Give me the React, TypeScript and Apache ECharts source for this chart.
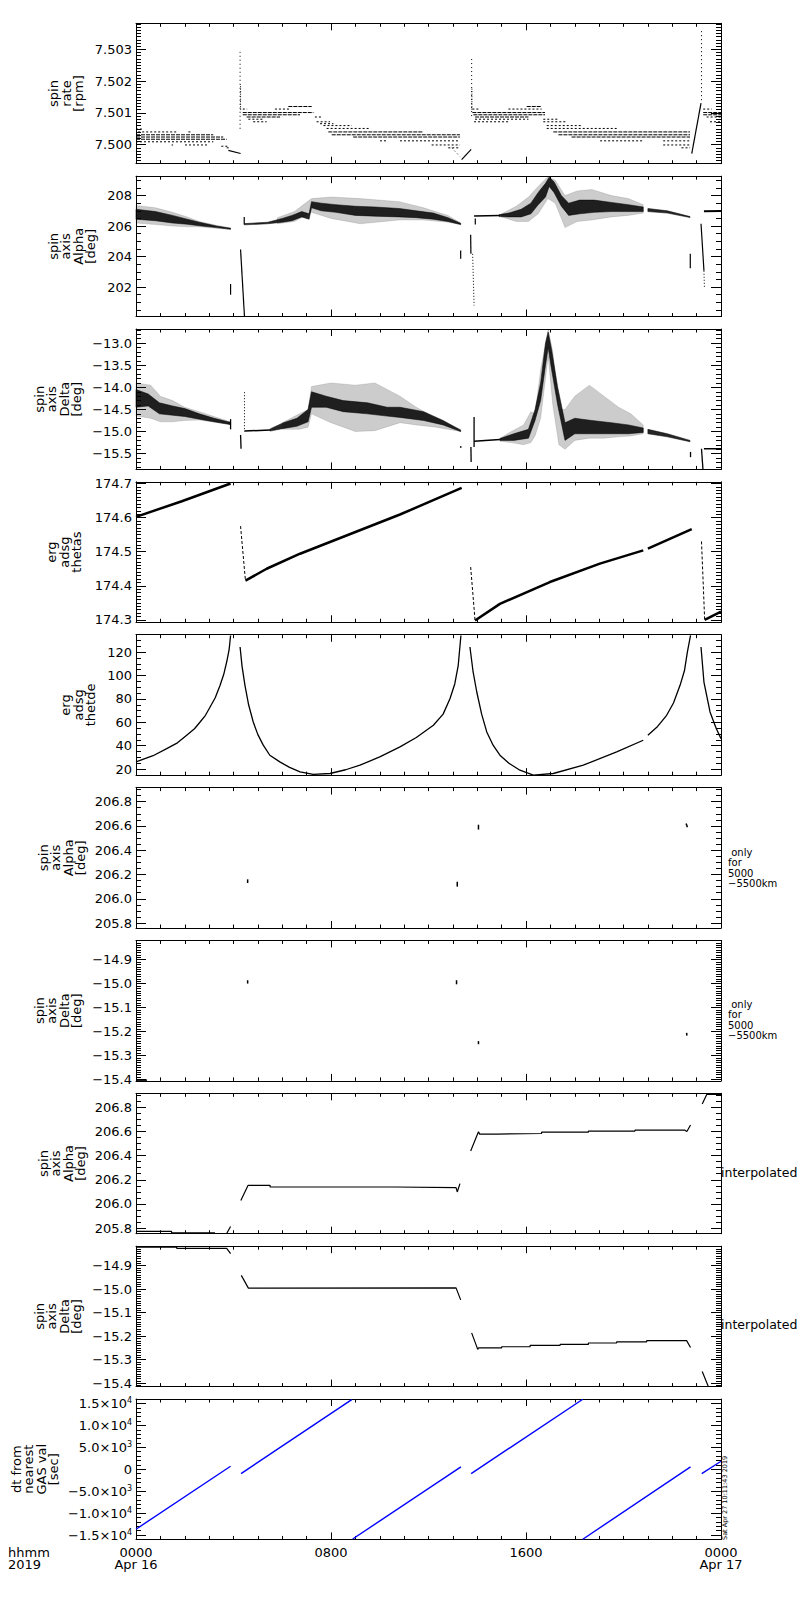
import React, { useEffect, useRef } from "react";
import * as echarts from "echarts";

type Pt = [number, number];
type Seg = [number, number, number, number];
type Level = [number, number, number];
type BandRow = [number, number, number];

const FONT = "'DejaVu Sans', sans-serif";

// ---------------- axes text ----------------
const X_TICK_TEXT: Record<number, string> = { 0: "0000\nApr 16", 8: "0800", 16: "1600", 24: "0000\nApr 17" };
const PANEL_TITLES = [
  "spin\nrate\n[rpm]",
  "spin\naxis\nAlpha\n[deg]",
  "spin\naxis\nDelta\n[deg]",
  "erg\nadsg\nthetas",
  "erg\nadsg\nthetde",
  "spin\naxis\nAlpha\n[deg]",
  "spin\naxis\nDelta\n[deg]",
  "spin\naxis\nAlpha\n[deg]",
  "spin\naxis\nDelta\n[deg]",
  "dt from\nnearest\nGAS val\n[sec]",
];
const Y_MIN = [7.4994, 200.07, -15.857, 174.293, 14.9, 205.759, -15.406, 205.753, -15.414, -16000];
const Y_MAX = [7.50382, 209.27, -12.68, 174.7047, 134.8, 206.916, -14.82, 206.916, -14.818, 16000];
const Y_STEP = [0.001, 2, 0.5, 0.1, 20, 0.2, 0.1, 0.2, 0.1, 5000];
const Y_MINOR = [10, 4, 5, 10, 4, 4, 10, 4, 10, 5];
const Y_DECIMALS = [3, 0, 1, 1, 0, 1, 1, 1, 1, 1];
const RANGE_NOTE = " only\nfor\n5000\n\u22125500km";
const INTERP_NOTE = "interpolated";
const CORNER_NOTE = "hhmm\n2019";
const STAMP = "Sat Apr 27 10:11:43 2019";

// ---------------- panel 1: spin rate ----------------
const P1_LEVELS: Level[] = [
  [0, 3.17, 7.50031], [0, 3.58, 7.50024], [0, 3.72, 7.50017],
  [4.38, 7.28, 7.50101], [4.38, 6.73, 7.50094], [4.54, 5.91, 7.50087], [6.25, 7.21, 7.5012],
  [7.89, 11.79, 7.5004], [8.03, 13.29, 7.50031], [8.91, 13.29, 7.50024],
  [13.8, 16.78, 7.50101], [13.84, 16.78, 7.50094], [13.91, 16.1, 7.50087], [16.03, 16.64, 7.5012],
  [17.12, 22.73, 7.5004], [17.33, 22.73, 7.50031], [17.87, 22.73, 7.50024],
  [23.27, 24, 7.50101], [23.27, 24, 7.50094],
];
const P1_LEVELS_SPARSE: Level[] = [
  [0, 0.25, 7.50049], [0.09, 1.7, 7.5004], [2.15, 2.28, 7.5004], [0, 3.17, 7.50009],
  [1.46, 1.52, 7.49999], [2.01, 2.97, 7.49999], [3.5, 3.79, 7.49995], [3.72, 3.86, 7.4999],
  [4.38, 4.56, 7.50112], [4.61, 5.22, 7.5008], [4.81, 5.36, 7.50072], [5.7, 6.32, 7.50112],
  [7.34, 7.62, 7.50087], [7.41, 7.96, 7.50072], [7.55, 8.1, 7.50066], [7.69, 8.85, 7.5006],
  [7.82, 9.6, 7.50051], [10.01, 10.28, 7.50012], [10.83, 13.29, 7.50012], [12.13, 13.29, 7.49999],
  [12.81, 13.29, 7.4999], [13.8, 14.05, 7.50112], [13.91, 16.1, 7.5008], [13.87, 15.34, 7.50072],
  [15.28, 16.64, 7.50112], [16.71, 17.33, 7.5008], [16.71, 17.67, 7.50072], [16.85, 18.28, 7.5006],
  [16.85, 19.72, 7.50051], [19.04, 20.81, 7.50012], [21.63, 22.73, 7.50012], [21.63, 22.73, 7.49999],
  [22.38, 22.73, 7.4999], [23.27, 23.62, 7.50112], [23.41, 24, 7.50087], [23.55, 24, 7.50072],
];
const P1_SPIKES: Seg[] = [
  [4.27, 7.5005, 4.27, 7.50292], [13.77, 7.5009, 13.77, 7.50275], [23.2, 7.5014, 23.2, 7.50364],
  [12.95, 7.4999, 13.3, 7.49962],
];
const P1_RAMPS: Seg[] = [
  [3.79, 7.49982, 4.29, 7.49972], [13.36, 7.49953, 13.75, 7.49985], [22.8, 7.49972, 23.18, 7.50131],
];
const P1_SPIKE_CORES: Seg[] = [[4.29, 7.5011, 4.29, 7.5019], [13.78, 7.5011, 13.78, 7.5018]];

// ---------------- panel 2: spin axis alpha ----------------
const P2_CLOUD: BandRow[][] = [
  [[0, 206.2, 207.35], [0.8, 206.1, 207.2], [1.5, 206.0, 206.9], [2.1, 205.95, 206.6], [2.6, 205.95, 206.3], [3.3, 205.85, 206.05], [3.88, 205.78, 205.88]],
  [[5.8, 206.15, 206.55], [6.5, 206.3, 206.95], [7.2, 206.9, 207.8], [8.0, 206.5, 207.9], [9.2, 206.15, 207.8], [10.8, 206.4, 207.6], [11.8, 206.4, 207.2], [12.8, 206.25, 206.7], [13.32, 206.1, 206.2]],
  [[15.0, 206.6, 206.8], [15.6, 206.3, 207.3], [16.1, 206.3, 207.9], [16.5, 206.8, 208.6], [16.9, 207.8, 209.25], [17.2, 207.5, 209.0], [17.6, 205.9, 208.0], [18.1, 206.3, 208.3], [18.7, 206.4, 208.4], [19.5, 206.6, 208.0], [20.2, 206.7, 207.8], [20.81, 206.85, 207.4]],
];
const P2_CORE: BandRow[][] = [
  [[0, 206.45, 207.1], [0.8, 206.35, 206.95], [1.5, 206.2, 206.7], [2.1, 206.12, 206.45], [2.6, 206.02, 206.25], [3.3, 205.9, 206.0], [3.88, 205.79, 205.86]],
  [[4.45, 206.08, 206.16], [5.4, 206.15, 206.25], [6.0, 206.25, 206.5], [6.4, 206.35, 206.7], [6.8, 206.6, 206.95], [7.1, 206.45, 206.8], [7.2, 207.2, 207.6], [7.6, 207.0, 207.5], [8.2, 206.9, 207.4], [9.0, 206.7, 207.3], [9.8, 206.65, 207.25], [10.8, 206.6, 207.15], [11.5, 206.55, 207.0], [12.2, 206.45, 206.85], [12.8, 206.3, 206.55], [13.32, 206.1, 206.18]],
  [[14.9, 206.62, 206.75], [15.3, 206.6, 206.85], [15.8, 206.6, 207.1], [16.2, 206.8, 207.5], [16.5, 207.4, 208.2], [16.8, 207.9, 208.8], [16.95, 208.6, 209.2], [17.15, 208.2, 208.9], [17.45, 207.3, 208.0], [17.75, 206.7, 207.5], [18.2, 206.8, 207.7], [18.8, 206.9, 207.7], [19.5, 206.95, 207.55], [20.2, 206.95, 207.4], [20.81, 206.95, 207.25]],
  [[21.0, 206.95, 207.15], [21.8, 206.85, 207.0], [22.73, 206.56, 206.62]],
];
const P2_SEGS: Seg[] = [
  [3.88, 202.2, 3.88, 201.5], [4.29, 204.46, 4.45, 200.07], [4.44, 206.6, 4.44, 206.1],
  [13.32, 204.4, 13.32, 203.85], [13.73, 205.43, 13.74, 204.18], [13.92, 206.5, 13.92, 206.1],
  [22.74, 204.18, 22.74, 203.24], [23.18, 206.15, 23.3, 203.07],
];
const P2_SEGS_DOTTED: Seg[] = [[13.81, 204.18, 13.87, 200.8], [23.3, 203.07, 23.32, 202.0]];
const P2_LINE_A: Pt[] = [[13.87, 206.66], [14.93, 206.7]];
const P2_LINE_B: Pt[] = [[23.3, 206.97], [24, 206.99]];

// ---------------- panel 3: spin axis delta ----------------
const P3_CLOUD: BandRow[][] = [
  [[0, -14.65, -13.9], [0.6, -14.7, -13.95], [1.0, -14.78, -14.2], [1.5, -14.78, -14.3], [2.0, -14.75, -14.45], [2.6, -14.74, -14.55], [3.86, -14.84, -14.78]],
  [[6.0, -14.95, -14.8], [6.7, -14.95, -14.6], [7.06, -14.9, -14.5], [7.2, -14.6, -13.98], [8.0, -14.8, -13.9], [9.0, -15.0, -13.95], [9.8, -14.98, -13.9], [10.83, -14.8, -14.2], [11.5, -14.85, -14.45], [12.3, -14.9, -14.7], [13.32, -15.0, -14.95]],
  [[14.93, -15.22, -15.15], [15.4, -15.25, -15.0], [15.9, -15.3, -14.85], [16.2, -15.25, -14.55], [16.37, -15.1, -14.6], [16.6, -14.7, -13.6], [16.91, -13.3, -12.68], [17.1, -14.4, -13.2], [17.35, -15.3, -14.5], [17.6, -15.4, -14.5], [18.0, -15.2, -14.2], [18.6, -15.15, -13.95], [19.2, -15.15, -14.2], [19.8, -15.12, -14.45], [20.3, -15.1, -14.6], [20.81, -15.05, -14.85]],
];
const P3_CORE: BandRow[][] = [
  [[0, -14.45, -14.05], [0.5, -14.42, -14.15], [0.96, -14.6, -14.35], [1.5, -14.63, -14.42], [2.0, -14.66, -14.48], [2.6, -14.72, -14.6], [3.2, -14.78, -14.7], [3.86, -14.84, -14.79]],
  [[5.5, -14.99, -14.94], [6.05, -14.93, -14.8], [6.6, -14.88, -14.7], [7.06, -14.78, -14.5], [7.2, -14.45, -14.1], [7.8, -14.45, -14.2], [8.5, -14.55, -14.3], [9.5, -14.6, -14.35], [10.3, -14.65, -14.45], [10.83, -14.68, -14.45], [11.8, -14.75, -14.55], [12.6, -14.85, -14.75], [13.32, -15.0, -14.97]],
  [[14.93, -15.2, -15.16], [15.5, -15.2, -15.05], [16.1, -15.15, -14.95], [16.37, -14.75, -14.5], [16.6, -14.3, -13.9], [16.8, -13.5, -13.0], [16.91, -13.1, -12.75], [17.05, -13.6, -13.15], [17.3, -14.4, -14.0], [17.6, -15.2, -14.8], [18.0, -15.05, -14.7], [18.7, -15.05, -14.75], [19.5, -15.05, -14.8], [20.2, -15.05, -14.85], [20.81, -15.02, -14.92]],
  [[21.0, -15.05, -14.95], [21.8, -15.12, -15.05], [22.73, -15.23, -15.2]],
];
const P3_SEGS: Seg[] = [
  [3.88, -14.72, 3.88, -14.95], [4.29, -15.08, 4.31, -15.39], [13.32, -15.33, 13.33, -15.37],
  [13.87, -14.67, 13.87, -15.35], [13.74, -15.35, 13.75, -15.69], [22.75, -15.46, 22.75, -15.58],
  [23.2, -15.39, 23.26, -15.857],
];
const P3_SEGS_DOTTED: Seg[] = [[4.45, -14.11, 4.45, -15.0]];
const P3_LINE_A: Pt[] = [[4.45, -14.99], [5.5, -14.965]];
const P3_LINE_B: Pt[] = [[13.87, -15.22], [14.93, -15.18]];
const P3_LINE_C: Pt[] = [[23.3, -15.39], [24, -15.39]];

// ---------------- panel 4: erg adsg thetas ----------------
const P4_A: Pt[] = [[0, 174.602], [1.88, 174.648], [3.88, 174.7]];
const P4_B: Pt[] = [[4.49, 174.415], [5.36, 174.45], [6.73, 174.494], [10.83, 174.609], [13.36, 174.687]];
const P4_C: Pt[] = [[13.91, 174.298], [14.93, 174.347], [16.98, 174.411], [19.03, 174.465], [20.81, 174.504]];
const P4_D: Pt[] = [[21.0, 174.509], [22.8, 174.566]];
const P4_E: Pt[] = [[23.33, 174.3], [24, 174.324]];
const P4_DROPS: Seg[] = [[4.29, 174.575, 4.49, 174.415], [13.73, 174.455, 13.91, 174.298], [23.2, 174.53, 23.33, 174.3]];

// ---------------- panel 5: erg adsg thetde ----------------
const P5_A: Pt[] = [[0, 26.2], [0.7, 31.5], [1.26, 37.6], [1.7, 42.5], [2.08, 49.0], [2.4, 54.5], [2.63, 60.3], [2.85, 66.0], [3.04, 73.1], [3.25, 81.0], [3.45, 91.6], [3.6, 101.0], [3.72, 111.5], [3.82, 122.0], [3.88, 134.2]];
const P5_B: Pt[] = [[4.27, 124.3], [4.35, 108.0], [4.47, 91.6], [4.62, 75.0], [4.81, 60.3], [5.0, 49.5], [5.22, 40.5], [5.49, 31.9], [5.9, 26.2], [6.3, 21.5], [6.73, 17.7], [7.27, 15.5], [7.96, 16.3], [8.6, 19.5], [9.19, 23.4], [10.0, 30.5], [10.83, 39.0], [11.5, 47.0], [12.2, 57.5], [12.6, 67.0], [12.88, 80.2], [13.08, 93.0], [13.22, 108.7], [13.33, 134.2]];
const P5_C: Pt[] = [[13.7, 124.3], [13.83, 103.0], [13.98, 85.9], [14.18, 67.0], [14.39, 51.8], [14.65, 40.5], [14.93, 31.9], [15.3, 25.0], [15.75, 19.1], [16.3, 14.9], [17.12, 16.3], [18.35, 23.4], [19.72, 34.8], [20.81, 44.7]];
const P5_D: Pt[] = [[21.0, 49.0], [21.4, 56.5], [21.77, 66.0], [22.05, 76.5], [22.32, 91.6], [22.5, 104.0], [22.62, 120.0], [22.75, 134.2]];
const P5_E: Pt[] = [[23.18, 124.3], [23.3, 94.4], [23.55, 68.9], [23.8, 55.0], [24, 46.1]];

// ---------------- panels 6 & 7: only for 5000-5500 km ----------------
const P6_SEGS: Seg[] = [[4.58, 206.13, 4.58, 206.16], [13.18, 206.1, 13.18, 206.14], [14.05, 206.57, 14.05, 206.61], [22.57, 206.62, 22.62, 206.59]];
const P7_SEGS: Seg[] = [[4.58, -14.986, 4.58, -15.0], [13.15, -14.986, 13.15, -15.003], [14.05, -15.24, 14.05, -15.253], [22.59, -15.206, 22.6, -15.217], [0, -15.403, 0.45, -15.403]];

// ---------------- panel 8: interpolated alpha ----------------
const P8_A: Pt[] = [[0, 205.772], [1.46, 205.772], [1.46, 205.761], [3.24, 205.761]];
const P8_B: Pt[] = [[3.72, 205.755], [3.88, 205.813]];
const P8_C: Pt[] = [[4.3, 206.029], [4.6, 206.154], [5.5, 206.154], [5.5, 206.14], [10.62, 206.14], [10.62, 206.135], [13.13, 206.135], [13.18, 206.099], [13.29, 206.168]];
const P8_D: Pt[] = [[13.73, 206.439], [14.05, 206.597], [14.1, 206.578], [14.8, 206.578], [14.8, 206.583], [16.64, 206.583], [16.64, 206.594], [18.56, 206.594], [18.56, 206.603], [20.47, 206.603], [20.47, 206.611], [22.52, 206.611], [22.6, 206.6], [22.75, 206.653]];
const P8_E: Pt[] = [[23.23, 206.827], [23.42, 206.908], [24, 206.908]];

// ---------------- panel 9: interpolated delta ----------------
const P9_A: Pt[] = [[0, -14.822], [1.67, -14.822], [1.67, -14.827], [3.72, -14.827], [3.88, -14.85]];
const P9_B: Pt[] = [[4.32, -14.942], [4.61, -14.996], [13.13, -14.995], [13.32, -15.046]];
const P9_C: Pt[] = [[13.77, -15.186], [14.02, -15.256], [14.05, -15.25], [15.0, -15.25], [15.0, -15.245], [16.17, -15.245], [16.17, -15.239], [17.4, -15.239], [17.4, -15.235], [18.56, -15.235], [18.56, -15.229], [19.72, -15.229], [19.72, -15.224], [20.95, -15.224], [20.95, -15.219], [22.59, -15.219], [22.75, -15.248]];
const P9_D: Pt[] = [[23.23, -15.35], [23.48, -15.414]];

// ---------------- panel 10: dt from nearest GAS val ----------------
const P10_RUNS: Pt[][] = [
  [[0, -13670], [3.88, 683]],
  [[4.31, -987], [8.85, 15878]],
  [[8.89, -15900], [13.33, 532]],
  [[13.75, -987], [18.33, 15950]],
  [[18.33, -15950], [22.75, 532]],
  [[23.21, -987], [24, 1822]],
];

// ---------------- layout (not data) ----------------
const GRID_LEFT = 136;
const GRID_W = 585;
const GRID_TOP0 = 23.3;
const GRID_PITCH = 152.86;
const GRID_H = 140.4;
const TITLE_GAP = [51, 39, 53, 53, 39, 49, 53, 49, 53, 76];

function fmtY(i: number, v: number): string {
  if (i === 9) {
    if (Math.abs(v) < 1e-9) return "0";
    const sign = v < 0 ? "\u2212" : "";
    const a = Math.abs(v);
    const e = Math.floor(Math.log10(a) + 1e-9);
    const m = (a / Math.pow(10, e)).toFixed(1);
    return `${sign}${m}\u00d710{sup|${e}}`;
  }
  const s = Math.abs(v).toFixed(Y_DECIMALS[i]);
  return (v < -1e-12 ? "\u2212" : "") + s;
}

function buildOption() {
  const grid: any[] = [];
  const xAxis: any[] = [];
  const yAxis: any[] = [];
  const series: any[] = [];
  const black = "#000";
  for (let i = 0; i < 10; i++) {
    grid.push({ left: GRID_LEFT, top: GRID_TOP0 + i * GRID_PITCH, width: GRID_W, height: GRID_H, outerBoundsMode: "none", containLabel: false });
    const xCommon = {
      type: "value", gridIndex: i, min: 0, max: 24, interval: 8,
      axisLine: { show: true, onZero: false, lineStyle: { color: black, width: 1 } },
      axisTick: { show: true, inside: true, length: 7, lineStyle: { color: black, width: 1 } },
      minorTick: { show: true, splitNumber: 8, length: 3.5, lineStyle: { color: black, width: 1 } },
      splitLine: { show: false }, minorSplitLine: { show: false },
    };
    xAxis.push({
      ...xCommon, position: "bottom",
      axisLabel: {
        show: i === 9, showMinLabel: true, showMaxLabel: true, margin: 7,
        fontSize: 13, lineHeight: 12, fontFamily: FONT, color: black,
        formatter: (v: number) => X_TICK_TEXT[Math.round(v)] ?? "",
      },
    });
    xAxis.push({ ...xCommon, position: "top", axisLabel: { show: false } });
    const yCommon = {
      type: "value", gridIndex: i, min: Y_MIN[i], max: Y_MAX[i],
      minInterval: Y_STEP[i], maxInterval: Y_STEP[i], splitNumber: 5,
      axisLine: { show: true, onZero: false, lineStyle: { color: black, width: 1 } },
      axisTick: { show: true, inside: true, length: 10, lineStyle: { color: black, width: 1 } },
      minorTick: { show: true, splitNumber: Y_MINOR[i], length: 5, lineStyle: { color: black, width: 1 } },
      splitLine: { show: false }, minorSplitLine: { show: false },
    };
    yAxis.push({
      ...yCommon, position: "left",
      axisLabel: {
        show: true, showMinLabel: false, showMaxLabel: false, margin: 4,
        fontSize: 13, fontFamily: FONT, color: black,
        formatter: (v: number) => fmtY(i, v),
        rich: { sup: { fontSize: 8, fontFamily: FONT, color: black, verticalAlign: "top", lineHeight: 10 } },
      },
      name: PANEL_TITLES[i], nameLocation: "middle", nameRotate: 90, nameGap: TITLE_GAP[i],
      nameMoveOverlap: false,
      nameTextStyle: { fontSize: 13, lineHeight: 12.5, fontFamily: FONT, color: black },
    });
    yAxis.push({ ...yCommon, position: "right", axisLabel: { show: false } });
  }

  const line = (g: number, pts: Pt[], w = 1, color = black, type: any = "solid") => {
    series.push({
      type: "line", xAxisIndex: 2 * g, yAxisIndex: 2 * g, data: pts, symbol: "none", showSymbol: false,
      lineStyle: { color, width: w, type }, silent: true, z: 4,
    });
  };
  const segs = (g: number, data: Seg[], w = 1, dash: number[] | null = null) => {
    series.push({
      type: "custom", xAxisIndex: 2 * g, yAxisIndex: 2 * g, data, silent: true, z: 4,
      encode: { x: [0, 2], y: [1, 3] },
      renderItem: (_p: any, api: any) => {
        const a = api.coord([api.value(0), api.value(1)]);
        const b = api.coord([api.value(2), api.value(3)]);
        return { type: "line", shape: { x1: a[0], y1: a[1], x2: b[0], y2: b[1] }, style: { stroke: black, lineWidth: w, lineDash: dash, fill: null } };
      },
    });
  };
  const levels = (g: number, data: Level[], w: number, dash: number[]) =>
    segs(g, data.map((l) => [l[0], l[2], l[1], l[2]] as Seg), w, dash);
  const bands = (g: number, data: BandRow[][], fill: string, z = 3) => {
    series.push({
      type: "custom", xAxisIndex: 2 * g, yAxisIndex: 2 * g, silent: true, z,
      data: data.map((b, k) => [b[0][0], b[0][1], k]),
      renderItem: (p: any, api: any) => {
        const b = data[p.dataIndex];
        const up = b.map((r) => api.coord([r[0], r[2]]));
        const lo = b.slice().reverse().map((r) => api.coord([r[0], r[1]]));
        return { type: "polygon", shape: { points: up.concat(lo) }, style: { fill, stroke: fill, lineWidth: 0.6 } };
      },
    });
  };

  // panel 1
  levels(0, P1_LEVELS, 1, [4, 1]);
  levels(0, P1_LEVELS_SPARSE, 1, [2, 2]);
  segs(0, P1_SPIKES, 1, [1, 3]);
  segs(0, P1_SPIKE_CORES, 1, [1, 1.5]);
  segs(0, P1_RAMPS, 1.2, null);
  // panel 2
  bands(1, P2_CLOUD, "rgba(0,0,0,0.2)", 2);
  bands(1, P2_CORE, "rgba(0,0,0,0.85)", 3);
  segs(1, P2_SEGS, 1.2, null);
  segs(1, P2_SEGS_DOTTED, 1, [1, 2]);
  line(1, P2_LINE_A, 1.5);
  line(1, P2_LINE_B, 2);
  // panel 3
  bands(2, P3_CLOUD, "rgba(0,0,0,0.2)", 2);
  bands(2, P3_CORE, "rgba(0,0,0,0.85)", 3);
  segs(2, P3_SEGS, 1.3, null);
  segs(2, P3_SEGS_DOTTED, 1, [1, 2]);
  line(2, P3_LINE_A, 1.5);
  line(2, P3_LINE_B, 1.5);
  line(2, P3_LINE_C, 1.5);
  // panel 4
  [P4_A, P4_B, P4_C, P4_D, P4_E].forEach((p) => line(3, p, 2.5));
  segs(3, P4_DROPS, 1, [3, 2]);
  // panel 5
  [P5_A, P5_B, P5_C, P5_D, P5_E].forEach((p) => line(4, p, 1.3));
  // panels 6, 7
  segs(5, P6_SEGS, 1.5, null);
  segs(6, P7_SEGS, 1.5, null);
  // panel 8
  [P8_A, P8_B, P8_C, P8_D, P8_E].forEach((p) => line(7, p, 1.2));
  // panel 9
  [P9_A, P9_B, P9_C, P9_D].forEach((p) => line(8, p, 1.2));
  // panel 10
  P10_RUNS.forEach((p) => line(9, p, 1.4, "#0000ff"));

  const txt = (x: number, y: number, text: string, size: number, lh: number, va = "top", rotation = 0) => ({
    type: "text", x, y, rotation, silent: true,
    style: { text, fontSize: size, lineHeight: lh, fontFamily: FONT, fill: black, align: "left", verticalAlign: va },
  });
  const graphic = [
    txt(8, 1546, CORNER_NOTE, 13, 12),
    txt(728, 847, RANGE_NOTE, 10, 10.5),
    txt(728, 999, RANGE_NOTE, 10, 10.5),
    txt(721, 1172, INTERP_NOTE, 12.5, 13, "middle"),
    txt(721, 1324.5, INTERP_NOTE, 12.5, 13, "middle"),
    txt(725, 1540, STAMP, 6.5, 7, "middle", Math.PI / 2),
  ];

  return { animation: false, backgroundColor: "#fff", grid, xAxis, yAxis, series, graphic };
}

export default function App() {
  const ref = useRef<HTMLDivElement>(null);
  useEffect(() => {
    document.body.style.margin = "0";
    const chart = echarts.init(ref.current!, null, { renderer: "svg" });
    chart.setOption(buildOption() as any);
    return () => chart.dispose();
  }, []);
  return <div ref={ref} style={{ width: 800, height: 1600 }} />;
}
